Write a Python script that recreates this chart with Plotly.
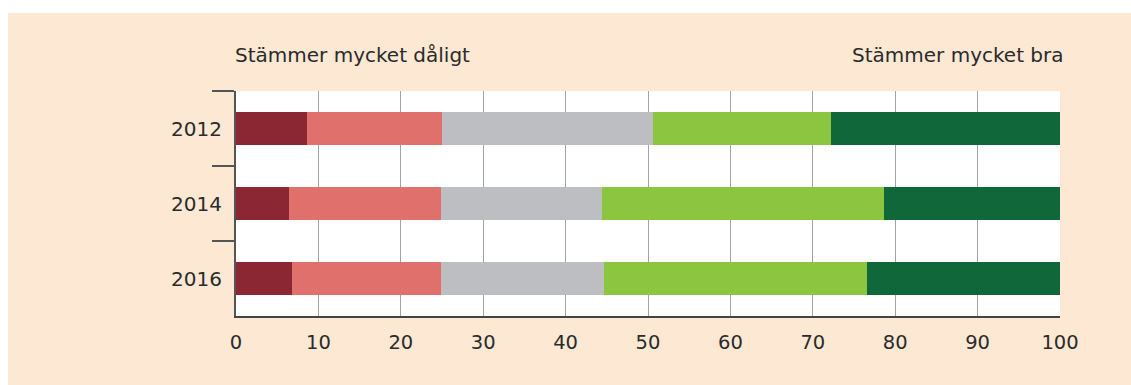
import plotly.graph_objects as go

years = ["2012", "2014", "2016"]
categories = ["1", "2", "3", "4", "5"]
colors = ["#8a2733", "#e0706b", "#bdbec2", "#8cc53f", "#10673a"]

# Share (%) per response step, from "Stämmer mycket dåligt" to "Stämmer mycket bra"
step1 = [8.6, 6.4, 6.8]
step2 = [16.4, 18.5, 18.1]
step3 = [25.6, 19.5, 19.8]
step4 = [21.6, 34.2, 31.9]
step5 = [27.8, 21.4, 23.4]
series = [step1, step2, step3, step4, step5]

x_ticks = [0, 10, 20, 30, 40, 50, 60, 70, 80, 90, 100]

font_family = "DejaVu Sans, Verdana, sans-serif"
text_color = "#2b2b2b"

fig = go.Figure()
for name, vals, col in zip(categories, series, colors):
    fig.add_trace(go.Bar(
        y=years, x=vals, name=name, orientation="h",
        marker=dict(color=col, line=dict(width=0)),
        hoverinfo="x+y",
    ))

W, H = 1131, 385
ml, mr, mt, mb = 236, 71, 91, 69
pw, ph = W - ml - mr, H - mt - mb

fig.update_layout(
    width=W, height=H,
    margin=dict(l=ml, r=mr, t=mt, b=mb, pad=0),
    barmode="stack",
    bargap=0.547,
    showlegend=False,
    paper_bgcolor="#fce8d3",
    plot_bgcolor="#ffffff",
    font=dict(family=font_family, size=20, color=text_color),
    xaxis=dict(
        range=[0, 100], tickvals=x_ticks, ticktext=[str(v) for v in x_ticks],
        showgrid=True, gridcolor="#a3a3a3", gridwidth=1.2,
        zeroline=False, showline=True, linecolor="#444444", linewidth=2,
        ticks="", ticklabelstandoff=8,
        tickfont=dict(size=19.5, color=text_color),
        fixedrange=True,
    ),
    yaxis=dict(
        categoryorder="array", categoryarray=years, autorange="reversed",
        showgrid=False, zeroline=False,
        showline=True, linecolor="#555555", linewidth=2,
        ticks="outside", tickson="boundaries", ticklen=22,
        tickcolor="#555555", tickwidth=1.5,
        ticklabelstandoff=8,
        tickfont=dict(size=20, color=text_color),
        fixedrange=True,
    ),
)

# white strips framing the coloured panel along the top and left edges
fig.add_shape(type="rect", xref="paper", yref="paper", layer="below",
              x0=-ml / pw - 0.01, x1=(W - ml) / pw + 0.01,
              y0=(H - mb - 13) / ph, y1=(H - mb) / ph + 0.05,
              fillcolor="#ffffff", line=dict(width=0))
fig.add_shape(type="rect", xref="paper", yref="paper", layer="below",
              x0=-ml / pw - 0.01, x1=(8 - ml) / pw,
              y0=-mb / ph - 0.05, y1=(H - mb) / ph + 0.05,
              fillcolor="#ffffff", line=dict(width=0))

title_y = (H - mb - 55) / ph
fig.add_annotation(text="Stämmer mycket dåligt", xref="paper", yref="paper",
                   x=(233 - ml) / pw, y=title_y, xanchor="left", yanchor="middle",
                   showarrow=False, font=dict(size=20, color=text_color))
fig.add_annotation(text="Stämmer mycket bra", xref="paper", yref="paper",
                   x=(1066 - ml) / pw, y=title_y, xanchor="right", yanchor="middle",
                   showarrow=False, font=dict(size=20, color=text_color))

fig.write_html("out.html")
